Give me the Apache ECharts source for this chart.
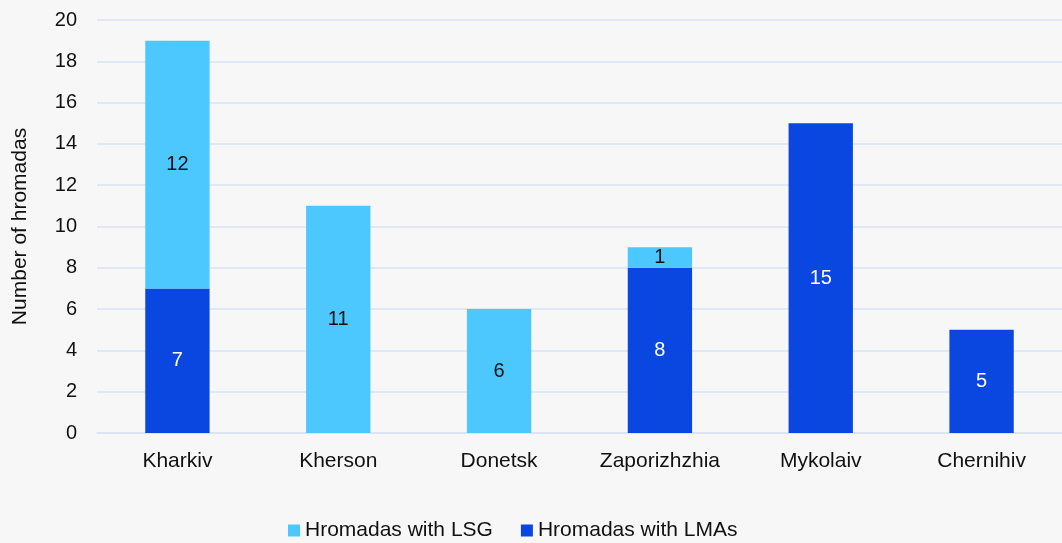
<!DOCTYPE html>
<html>
<head>
<meta charset="utf-8">
<script src="https://cdn.jsdelivr.net/npm/echarts@6/dist/echarts.min.js"></script>
<style>
  html, body { margin: 0; padding: 0; background: #F7F7F7; }
  #chart { width: 1062px; height: 543px; }
</style>
</head>
<body>
<div id="chart"></div>
<script>
const oblasts = ['Kharkiv', 'Kherson', 'Donetsk', 'Zaporizhzhia', 'Mykolaiv', 'Chernihiv']
const withLMAs = [7, null, null, 8, 15, 5]
const withLSG = [12, 11, 6, 1, null, null]
const yTicks = { min: 0, max: 20, interval: 2 }

const chart = echarts.init(document.getElementById('chart'))
const font = 'Arial, "Liberation Sans", sans-serif'

chart.setOption({
  backgroundColor: '#F7F7F7',
  textStyle: { fontFamily: font },
  animation: false,
  legend: {
    top: 520,
    left: 288,
    padding: 0,
    itemWidth: 12,
    itemHeight: 12,
    itemGap: 28,
    icon: 'rect',
    textStyle: { fontSize: 21, color: '#111', fontFamily: font },
    data: ['Hromadas with LSG', 'Hromadas with LMAs']
  },
  grid: { top: 20, left: 97, right: 0, bottom: 110, outerBoundsMode: 'none', containLabel: false },
  xAxis: {
    type: 'category',
    data: oblasts,
    axisLine: { lineStyle: { color: '#D9E2F5', width: 1.5 } },
    axisTick: { show: false },
    axisLabel: { margin: 18, fontSize: 21, color: '#111', fontFamily: font }
  },
  yAxis: {
    type: 'value',
    min: yTicks.min,
    max: yTicks.max,
    interval: yTicks.interval,
    name: 'Number of hromadas',
    nameLocation: 'middle',
    nameGap: 66,
    nameTextStyle: { fontSize: 21, color: '#111', fontFamily: font },
    axisLabel: { margin: 20, fontSize: 20, color: '#111', fontFamily: font },
    splitLine: { lineStyle: { color: '#D9E2F5', width: 1.5 } }
  },
  series: [
    {
      name: 'Hromadas with LMAs',
      type: 'bar',
      stack: 'total',
      data: withLMAs,
      barWidth: '40%',
      itemStyle: { color: '#0A47E0' },
      label: { show: true, position: 'inside', color: '#fff', fontSize: 20, fontFamily: font }
    },
    {
      name: 'Hromadas with LSG',
      type: 'bar',
      stack: 'total',
      data: withLSG,
      barWidth: '40%',
      itemStyle: { color: '#4CC8FF' },
      label: { show: true, position: 'inside', color: '#111', fontSize: 20, fontFamily: font }
    }
  ]
})
</script>
</body>
</html>
